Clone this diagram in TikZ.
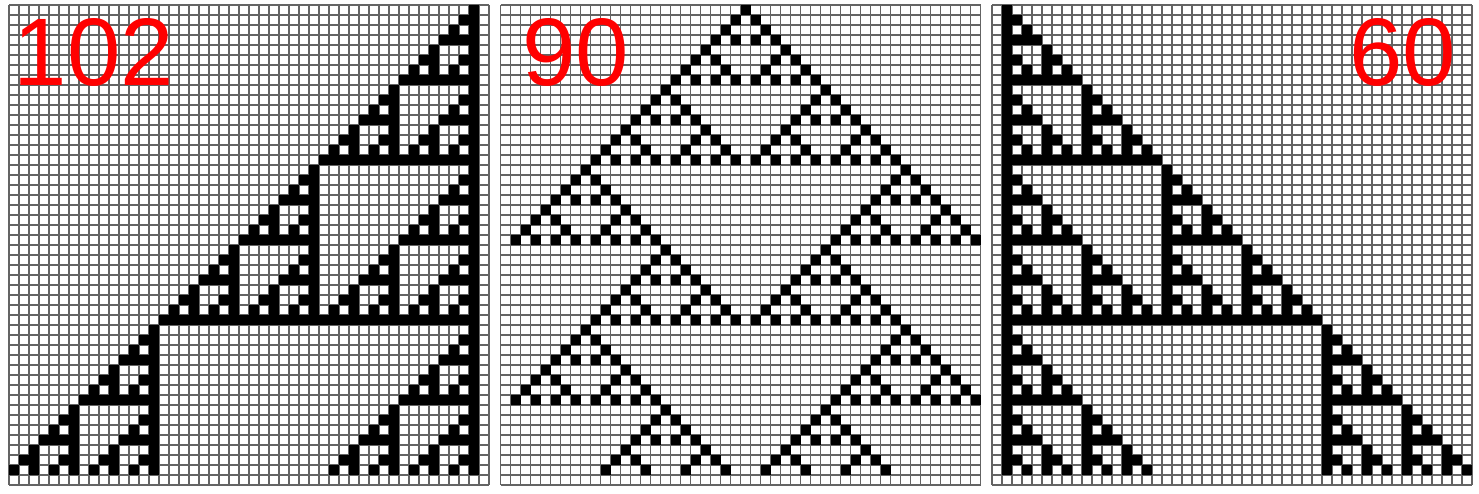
\documentclass[tikz,border=0pt]{standalone}
\usepackage{fontspec}
\setmainfont{Liberation Sans}
\newif\ifcellblack
\ExplSyntaxOn
\int_new:N \l_ca_t_int
\int_new:N \l_ca_k_int
\int_new:N \l_ca_d_int
\int_new:N \l_ca_par_int
\bool_new:N \l_ca_odd_bool
\cs_new_protected:Npn \ca_pascal:nn #1#2
 {
  \int_set:Nn \l_ca_t_int {#1}
  \int_set:Nn \l_ca_k_int {#2}
  \bool_set_true:N \l_ca_odd_bool
  \int_compare:nNnT {\l_ca_k_int} < {0} {\bool_set_false:N \l_ca_odd_bool}
  \int_compare:nNnT {\l_ca_k_int} > {\l_ca_t_int} {\bool_set_false:N \l_ca_odd_bool}
  \bool_if:NT \l_ca_odd_bool
   {
    \int_until_do:nNnn {\l_ca_k_int} = {0}
     {
      \int_if_odd:nT {\l_ca_k_int}
       { \int_if_odd:nF {\l_ca_t_int} { \bool_set_false:N \l_ca_odd_bool } }
      \int_set:Nn \l_ca_k_int { \int_div_truncate:nn {\l_ca_k_int} {2} }
      \int_set:Nn \l_ca_t_int { \int_div_truncate:nn {\l_ca_t_int} {2} }
     }
   }
 }
\NewDocumentCommand \CAtest {mmm}
 {
  \str_case_e:nn {#1}
   {
    {102} { \ca_pascal:nn {#2} {46 - (#3)} }
    {60} { \ca_pascal:nn {#2} {(#3) - 1} }
    {90}
     {
       \int_zero:N \l_ca_par_int
       \clist_map_inline:nn {24, -24, 72}
        {
          \int_set:Nn \l_ca_d_int { (#2) + (#3) - (##1) }
          \int_if_even:nT {\l_ca_d_int}
           {
             \ca_pascal:nn {#2} { \int_div_truncate:nn {\l_ca_d_int} {2} }
             \bool_if:NT \l_ca_odd_bool { \int_incr:N \l_ca_par_int }
           }
        }
       \int_if_odd:nTF {\l_ca_par_int}
        {\bool_set_true:N \l_ca_odd_bool} {\bool_set_false:N \l_ca_odd_bool}
     }
   }
  \bool_if:NTF \l_ca_odd_bool {\global\cellblacktrue} {\global\cellblackfalse}
 }
\ExplSyntaxOff
\definecolor{gridgray}{RGB}{100,100,100}
\definecolor{lblred}{RGB}{255,0,0}
\tikzset{
  gridline/.style={draw=gridgray, line width=1.8pt},
  cellfill/.style={fill=black},
  lbl/.style={text=lblred, inner sep=0pt, font=\fontsize{96}{96}\selectfont}
}
\begin{document}
\begin{tikzpicture}[x=1pt,y=1pt]
\useasboundingbox[fill=white] (0,0) rectangle (1479,494);
\foreach \px/\rl in {9/102, 500.5/90, 992/60} {
  \begin{scope}[shift={(\px,9)}]
    \foreach \k in {0,...,48} {
      \draw[gridline] (10*\k,0) -- (10*\k,480);
      \draw[gridline] (0,10*\k) -- (480,10*\k);
    }
    \foreach \ti in {0,...,46} {
      \foreach \co in {0,...,47} {
        \CAtest{\rl}{\ti}{\co}
        \ifcellblack \fill[cellfill] (10*\co,470-10*\ti) rectangle ++(10,10); \fi
      }
    }
  \end{scope}
}
\node[lbl, anchor=base west] (l102) at (13.5,408) {102};
\node[lbl, anchor=base west] (l90) at (522,408) {90};
\node[lbl, anchor=base east] (l60) at (1456,408) {60};
\end{tikzpicture}
\end{document}
